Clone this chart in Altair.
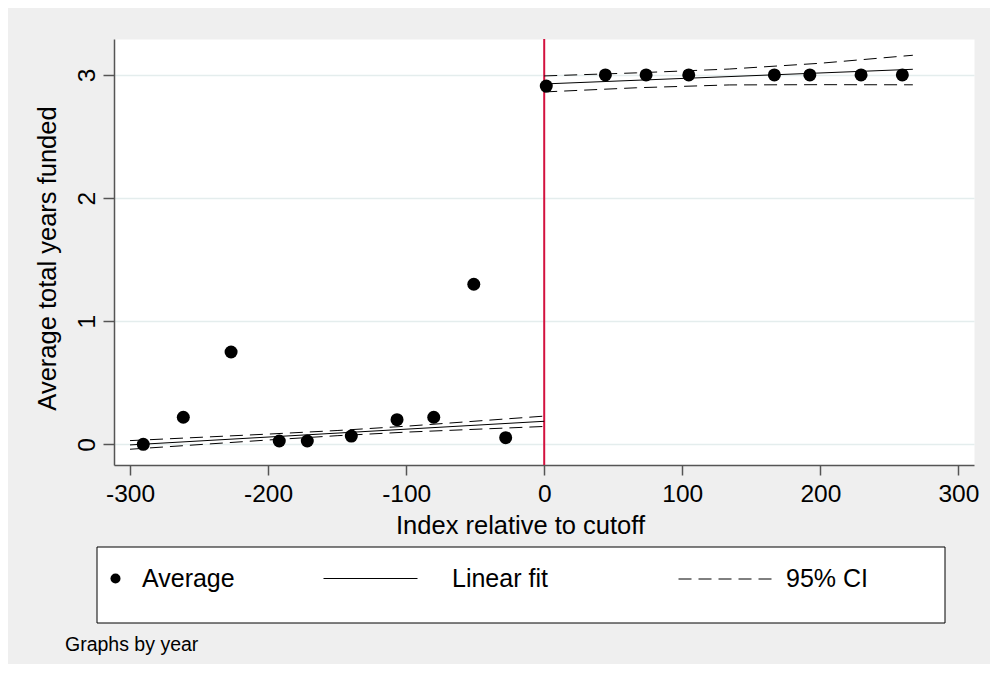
import altair as alt
import pandas as pd

FONT = "Liberation Sans"

# ---- data ----
avg_x = [-290.4, -261.4, -226.8, -191.9, -171.6, -139.7, -106.6, -80.0, -51.0, -27.9,
         1.5, 44.3, 73.8, 104.7, 166.7, 192.4, 229.5, 259.4]
avg_y = [0.0, 0.22, 0.75, 0.027, 0.027, 0.067, 0.20, 0.22, 1.30, 0.054,
         2.91, 3.0, 3.0, 3.0, 3.0, 3.0, 3.0, 3.0]

fit_left_x = [-300, 0]
fit_left_y = [-0.005, 0.187]
fit_right_x = [0, 267]
fit_right_y = [2.927, 3.046]

ci_left_x = [-300, -200, -150, -100, 0]
ci_left_hi = [0.030, 0.083, 0.112, 0.147, 0.229]
ci_left_lo = [-0.040, 0.035, 0.070, 0.099, 0.145]
ci_right_x = [0, 67, 134, 200, 267]
ci_right_hi = [2.992, 3.017, 3.048, 3.095, 3.160]
ci_right_lo = [2.862, 2.896, 2.919, 2.921, 2.920]

x_ticks = [-300, -200, -100, 0, 100, 200, 300]
y_ticks = [0, 1, 2, 3]
cutoff = [0]

# ---- tables ----
pts = pd.DataFrame({"x": avg_x, "y": avg_y, "lab": "Average"})
fit = pd.concat([
    pd.DataFrame({"x": fit_left_x, "y": fit_left_y, "side": "L"}),
    pd.DataFrame({"x": fit_right_x, "y": fit_right_y, "side": "R"}),
])
fit["lab"] = "Linear fit"
ci = pd.concat([
    pd.DataFrame({"x": ci_left_x, "y": ci_left_hi, "grp": "Lhi"}),
    pd.DataFrame({"x": ci_left_x, "y": ci_left_lo, "grp": "Llo"}),
    pd.DataFrame({"x": ci_right_x, "y": ci_right_hi, "grp": "Rhi"}),
    pd.DataFrame({"x": ci_right_x, "y": ci_right_lo, "grp": "Rlo"}),
])
ci["lab"] = "95% CI"
cut = pd.DataFrame({"x": cutoff})
box = pd.DataFrame({"k": [0]})

xscale = alt.Scale(domain=[-311.6, 311.3], nice=False, zero=False)
yscale = alt.Scale(domain=[-0.168, 3.292], nice=False, zero=False)

xaxis = alt.Axis(values=x_ticks, labelExpr="'' + datum.value", title="Index relative to cutoff",
                 titleX=406, titleY=68, titleBaseline="alphabetic", titleAlign="center",
                 labelPadding=7, tickSize=10, labelFlush=False, grid=False)
yaxis = alt.Axis(values=y_ticks, labelExpr="'' + datum.value", title="Average total years funded",
                 titleAngle=270, titleX=-67, titleY=219, titleAlign="center",
                 titleBaseline="middle", labelAngle=270, labelPadding=4, tickSize=11,
                 grid=True, gridColor="#e4eded", gridWidth=1.5, labelFlush=False)

X = alt.X("x:Q", scale=xscale, axis=xaxis)
Y = alt.Y("y:Q", scale=yscale, axis=yaxis)

leg_common = dict(orient="none", title=None, padding=0, labelFont=FONT,
                  labelFontSize=25, labelColor="black")

frame = alt.Chart(box).mark_rect(fill="white", stroke="black", strokeWidth=1).encode(
    x=alt.value(-17), x2=alt.value(831), y=alt.value(508), y2=alt.value(584)
)

rule = alt.Chart(cut).mark_rule(color="#d3123f", strokeWidth=2).encode(
    x=alt.X("x:Q", scale=xscale, axis=xaxis)
)

ci_lines = alt.Chart(ci).mark_line(color="black", strokeWidth=1).encode(
    x=X, y=Y, detail="grp:N",
    strokeDash=alt.StrokeDash(
        "lab:N",
        scale=alt.Scale(domain=["95% CI"], range=[[13, 7]]),
        legend=alt.Legend(legendX=564, legendY=492, labelOffset=12, symbolType="stroke",
                          symbolSize=9025, symbolStrokeColor="black",
                          symbolStrokeWidth=1, **leg_common),
    ),
)

fit_lines = alt.Chart(fit).mark_line(strokeWidth=1).encode(
    x=X, y=Y, detail="side:N",
    color=alt.Color(
        "lab:N",
        scale=alt.Scale(domain=["Linear fit"], range=["black"]),
        legend=alt.Legend(legendX=209, legendY=492, labelOffset=34, symbolType="stroke",
                          symbolSize=8836, symbolStrokeWidth=1, **leg_common),
    ),
)

points = alt.Chart(pts).mark_point(filled=True, size=169, opacity=1, color="black").encode(
    x=X, y=Y,
    shape=alt.Shape(
        "lab:N",
        scale=alt.Scale(domain=["Average"], range=["circle"]),
        legend=alt.Legend(legendX=-11, legendY=527, labelOffset=14, symbolSize=100,
                          symbolFillColor="black", symbolStrokeColor="black",
                          symbolStrokeWidth=0, **leg_common),
    ),
)

chart = alt.layer(frame, rule, ci_lines, fit_lines, points).properties(
    width=860,
    height=426,
    autosize=alt.AutoSizeParams(type="none"),
    padding={"left": 106, "top": 31, "right": 16, "bottom": 199},
    background="#efefef",
    title=alt.TitleParams("Graphs by year", orient="bottom", anchor="start",
                          frame="group", dx=-49, offset=12, fontSize=19.5,
                          fontWeight="normal", font=FONT, color="black"),
).configure_view(
    fill="white", stroke="transparent"
).configure_axis(
    labelFont=FONT, titleFont=FONT, labelFontSize=24.5, titleFontSize=25.5,
    labelColor="black", titleColor="black", titleFontWeight="normal",
    domainColor="#555555", tickColor="#555555", domainWidth=1.5, tickWidth=1.5,
)

chart.save("out.html", embed_options={"renderer": "svg", "actions": False})
